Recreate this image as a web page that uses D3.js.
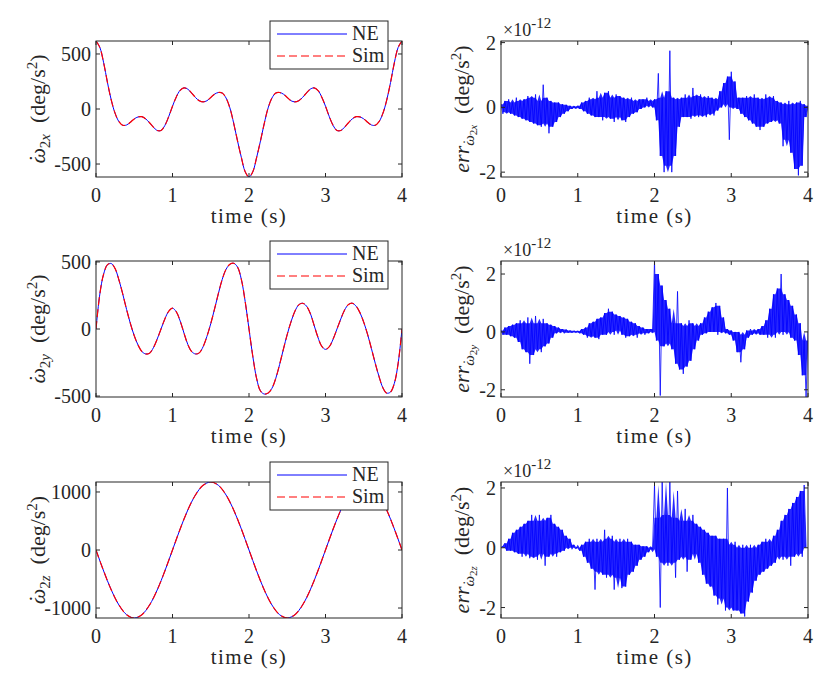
<!DOCTYPE html>
<html lang="en">
<head>
    <meta charset="utf-8">
    <script src="https://d3js.org/d3.v7.min.js"></script>
    <style>
        body { margin: 0; background: #fff; }
        svg, text { font-family: "Liberation Serif", "DejaVu Serif", "Noto Serif", serif; }
        text { fill: #262626; }
        .box { fill: none; stroke: #262626; stroke-width: 1; }
        .tick { stroke: #262626; stroke-width: 1; }
    </style>
</head>
<body>
<script>
    // time bases
    let tFine = d3.range(81).map(function (i) { return i * 0.05; });
    let tCoarse = d3.range(41).map(function (i) { return i * 0.1; });
    let tErr = d3.range(161).map(function (i) { return i * 0.025; });

    let xTicks = [0, 1, 2, 3, 4];

    // angular acceleration, NE model (deg/s^2); Sim overlays the same values
    let wx = [618, 560, 420, 240, 80, -40, -115, -148, -145, -120,
        -90, -72, -70, -90, -125, -165, -195, -195, -150, -70,
        25, 110, 170, 192, 180, 145, 105, 75, 65, 75,
        105, 135, 150, 145, 100, 10, -130, -290, -440, -570,
        -618, -570, -440, -290, -130, 10, 100, 145, 150, 135,
        105, 75, 65, 75, 105, 145, 180, 192, 170, 110,
        25, -70, -150, -195, -195, -165, -125, -90, -70, -72,
        -90, -120, -145, -148, -115, -40, 80, 240, 420, 560, 618];

    let wy = [0, 260, 410, 480, 488, 450, 365, 260, 145, 40,
        -50, -120, -168, -186, -180, -140, -75, 0, 75, 132,
        155, 128, 60, -30, -115, -168, -186, -178, -132, -55,
        40, 150, 265, 370, 445, 482, 490, 462, 370, 205,
        0, -205, -370, -462, -485, -478, -442, -368, -265, -150,
        -40, 55, 132, 180, 192, 172, 118, 30, -60, -128,
        -152, -132, -75, 0, 75, 142, 182, 192, 170, 122,
        50, -40, -145, -255, -355, -438, -478, -470, -405, -255, 0];

    let wz = [0, -362, -689, -948, -1115, -1172, -1115, -948, -689, -362,
        0, 362, 689, 948, 1115, 1172, 1115, 948, 689, 362,
        0, -362, -689, -948, -1115, -1172, -1115, -948, -689, -362,
        0, 362, 689, 948, 1115, 1172, 1115, 948, 689, 362, 0];

    // NE - Sim error (x1e-12 deg/s^2), read every 0.025 s
    let errX = [0.1, -0.2, 0.2, -0.15, 0.25, -0.2, 0.15, -0.25,
        0.3, -0.3, 0.2, -0.35, 0.25, -0.4, 0.35, -0.45,
        0.3, -0.5, 0.4, -0.55, 0.2, -0.6, 0.7, -0.5,
        0.3, -0.8, 0.2, -0.6, 0.15, -0.45, 0.15, -0.3,
        0.1, -0.2, 0.08, -0.12, 0.05, -0.05, 0.03, -0.02,
        0.05, -0.05, 0.15, -0.12, 0.2, -0.2, 0.3, -0.25,
        0.25, -0.3, 0.5, -0.3, 0.3, -0.4, 0.45, -0.3,
        0.5, -0.35, 0.3, -0.45, 0.4, -0.3, 0.35, -0.4,
        0.3, -0.45, 0.25, -0.3, 0.3, -0.2, 0.2, -0.15,
        0.25, -0.05, 0.25, 0.0, 0.3, 0.05, 0.2, 0.0,
        0.25, -0.4, 1.05, -1.5, 0.3, -2.0, 0.5, -1.8,
        1.75, -2.0, 0.3, -1.5, 0.25, -0.6, 0.3, -0.3,
        0.4, -0.3, 0.3, -0.35, 0.6, -0.25, 0.35, -0.3,
        0.4, -0.25, 0.3, -0.3, 0.35, -0.2, 0.3, -0.25,
        0.25, -0.1, 0.5, 0.0, 0.75, 0.1, 0.95, -1.0,
        1.1, 0.0, 0.8, -0.05, 0.3, -0.2, 0.3, -0.3,
        0.35, -0.4, 0.3, -0.5, 0.4, -0.6, 0.3, -0.7,
        0.25, -0.6, 0.4, -0.5, 0.3, -0.45, 0.35, -0.4,
        0.2, -0.5, 0.15, -1.2, 0.1, -1.0, 0.2, -1.4,
        0.1, -1.9, 0.15, -2.1, 0.2, -1.8, 0.1, -0.3, 0.05];

    let errY = [0.05, -0.1, 0.15, -0.1, 0.2, -0.15, 0.25, -0.2,
        0.3, -0.35, 0.4, -0.6, 0.3, -0.7, 0.5, -1.1,
        0.3, -0.8, 0.55, -0.6, 0.3, -0.7, 0.45, -0.5,
        0.3, -0.4, 0.25, -0.2, 0.2, -0.05, 0.15, 0.0,
        0.1, -0.05, 0.08, -0.03, 0.05, -0.03, 0.04, -0.02,
        0.03, -0.05, 0.1, -0.1, 0.15, -0.2, 0.3, -0.15,
        0.35, -0.2, 0.45, -0.25, 0.5, -0.1, 0.65, -0.1,
        0.8, 0.0, 0.7, -0.1, 0.6, 0.05, 0.55, -0.1,
        0.5, -0.2, 0.45, -0.15, 0.35, -0.1, 0.3, -0.2,
        0.2, -0.05, 0.15, -0.1, 0.1, -0.05, 0.1, 0.0,
        2.45, -0.3, 2.0, -2.2, 1.6, -0.5, 1.1, -0.4,
        0.8, -0.6, 0.3, -1.1, 1.4, -1.3, 0.3, -1.45,
        0.2, -1.2, 0.4, -1.0, 0.3, -0.6, 0.2, -0.3,
        0.3, -0.1, 0.5, -0.05, 0.7, 0.0, 0.85, 0.0,
        1.0, -0.1, 0.9, 0.0, 0.5, -0.05, 0.1, -0.1,
        0.05, -0.3, 0.0, -0.7, 0.0, -1.05, -0.1, -0.6,
        0.05, -0.2, 0.1, -0.1, 0.05, -0.05, 0.1, -0.1,
        0.2, -0.1, 0.4, -0.2, 0.8, -0.1, 1.3, -0.2,
        1.5, 0.0, 2.0, -0.1, 1.3, 0.0, 1.1, -0.2,
        0.9, -0.3, 0.6, -0.8, 0.3, -1.5, -0.3, -2.25, 0.0];

    let errZ = [0.0, 0.05, 0.15, -0.1, 0.3, -0.1, 0.5, -0.15,
        0.6, -0.2, 0.7, -0.3, 0.8, -0.2, 0.9, -0.35,
        1.1, -0.3, 0.9, -0.4, 1.1, -0.2, 0.9, -0.6,
        1.0, -0.3, 1.1, -0.2, 0.8, -0.3, 0.7, -0.15,
        0.6, -0.1, 0.4, 0.0, 0.3, -0.05, 0.1, 0.0,
        0.0, -0.1, 0.1, -0.3, 0.2, -0.5, 0.3, -0.7,
        0.2, -1.4, 0.3, -0.8, 0.2, -0.9, 0.6, -1.0,
        0.3, -0.9, 0.4, -1.4, 0.2, -1.0, 0.3, -1.35,
        0.2, -1.3, 0.3, -0.9, 0.2, -0.8, 0.1, -0.6,
        0.1, -0.4, 0.05, -0.3, 0.05, -0.15, 0.0, -0.05,
        2.1, -0.3, 1.0, -2.0, 2.2, -0.5, 1.1, -0.6,
        2.2, -0.5, 1.0, -1.0, 1.9, -0.4, 0.9, -0.3,
        1.3, -0.8, 0.9, -0.4, 1.1, -0.2, 0.8, -0.5,
        0.7, -0.9, 0.6, -1.2, 0.5, -1.3, 0.4, -1.6,
        0.4, -1.9, 0.3, -1.7, 0.3, -2.1, 2.0, -2.0,
        0.1, -2.1, 0.2, -2.1, 0.0, -2.2, 0.1, -2.3,
        0.0, -1.8, 0.1, -1.5, 0.0, -1.1, 0.1, -0.9,
        0.2, -0.8, 0.3, -0.7, 0.2, -0.6, 0.4, -0.5,
        0.6, -0.3, 0.9, -0.4, 1.1, -0.3, 1.3, -0.6,
        1.5, -0.3, 1.7, -0.2, 1.9, -0.3, 2.1, 0.0];

    let leftYTicks = [[-500, 0, 500], [-500, 0, 500], [-1000, 0, 1000]];
    let rightYTicks = [-2, 0, 2];
    let axisNames = ['x', 'y', 'z'];
    let legendNames = ['NE', 'Sim'];

    // layout
    let colX = [[96, 402], [501, 808]];
    let rowY = [[41, 177], [261, 397], [482, 618]];
    let leftDomains = [[-618, 618], [-507, 507], [-1172, 1172]];
    let rightDomains = [[-2.15, 2.05], [-2.25, 2.45], [-2.35, 2.2]];

    let svg = d3.select('body').append('svg')
        .attr('width', 827).attr('height', 677)
        .attr('font-family', '"Liberation Serif", "DejaVu Serif", serif');

    function drawFrame(g, x, y, yTicks) {
        let x0 = x.range()[0], x1 = x.range()[1];
        let y0 = y.range()[0], y1 = y.range()[1];
        let tl = 4;
        xTicks.forEach(function (t) {
            g.append('line').attr('class', 'tick')
                .attr('x1', x(t)).attr('x2', x(t)).attr('y1', y0).attr('y2', y0 - tl);
            g.append('line').attr('class', 'tick')
                .attr('x1', x(t)).attr('x2', x(t)).attr('y1', y1).attr('y2', y1 + tl);
            g.append('text').attr('x', x(t)).attr('y', y0 + 25)
                .attr('text-anchor', 'middle').style('font-size', '20px').text(t);
        });
        yTicks.forEach(function (v) {
            g.append('line').attr('class', 'tick')
                .attr('x1', x0).attr('x2', x0 + tl).attr('y1', y(v)).attr('y2', y(v));
            g.append('line').attr('class', 'tick')
                .attr('x1', x1).attr('x2', x1 - tl).attr('y1', y(v)).attr('y2', y(v));
            g.append('text').attr('x', x0 - 5).attr('y', y(v) + 7)
                .attr('text-anchor', 'end').style('font-size', '20px').text(String(v));
        });
        g.append('rect').attr('class', 'box')
            .attr('x', x0).attr('y', y1).attr('width', x1 - x0).attr('height', y0 - y1);
        g.append('text').attr('x', (x0 + x1) / 2).attr('y', y0 + 46)
            .attr('text-anchor', 'middle').style('font-size', '21px')
            .style('letter-spacing', '1.5px').text('time (s)');
    }

    // omega with a dot above it; returns the dx the following tspan needs
    function dotted(lab, size, dy) {
        lab.append('tspan').attr('dy', dy).style('font-style', 'italic')
            .style('font-size', size + 'px').text('\u03c9');
        lab.append('tspan').attr('dx', -0.62 * size).attr('dy', -0.05 * size)
            .style('font-size', size + 'px').text('\u02d9');
        return 0.28 * size;
    }

    let leftData = [wx, wy, wz];
    let leftTime = [tFine, tFine, tCoarse];
    let errData = [errX, errY, errZ];

    leftData.forEach(function (vals, r) {
        let g = svg.append('g');
        let x = d3.scaleLinear().domain([0, 4]).range(colX[0]);
        let y = d3.scaleLinear().domain(leftDomains[r]).range([rowY[r][1], rowY[r][0]]);
        let ts = leftTime[r];
        let line = d3.line()
            .x(function (d, i) { return x(ts[i]); })
            .y(function (d) { return y(d); })
            .curve(d3.curveCatmullRom.alpha(0.5));

        let clipId = 'clipL' + r;
        g.append('clipPath').attr('id', clipId).append('rect')
            .attr('x', colX[0][0]).attr('y', rowY[r][0])
            .attr('width', colX[0][1] - colX[0][0]).attr('height', rowY[r][1] - rowY[r][0]);
        let plot = g.append('g').attr('clip-path', 'url(#' + clipId + ')');
        plot.append('path').datum(vals).attr('d', line)
            .attr('fill', 'none').attr('stroke', '#0000ff').attr('stroke-width', 1);
        plot.append('path').datum(vals).attr('d', line)
            .attr('fill', 'none').attr('stroke', '#ff0000').attr('stroke-width', 1.2)
            .attr('stroke-dasharray', '8,4');

        drawFrame(g, x, y, leftYTicks[r]);

        // y label
        let cy = (rowY[r][0] + rowY[r][1]) / 2;
        let lab = g.append('text')
            .attr('transform', 'translate(45,' + cy + ') rotate(-90)')
            .attr('text-anchor', 'middle').style('font-size', '22px');
        let dx = dotted(lab, 22, 0);
        lab.append('tspan').attr('dx', dx).attr('dy', 6).style('font-size', '15px').text('2');
        lab.append('tspan').style('font-size', '15px').style('font-style', 'italic').text(axisNames[r]);
        lab.append('tspan').attr('dy', -5).style('font-size', '22px').text('\u2002(deg/s');
        lab.append('tspan').attr('dy', -8).style('font-size', '15px').text('2');
        lab.append('tspan').attr('dy', 8).style('font-size', '22px').text(')');

        // legend
        let lx = 270, ly = rowY[r][0] - 20;
        let leg = g.append('g');
        leg.append('rect').attr('x', lx).attr('y', ly).attr('width', 118).attr('height', 48)
            .attr('fill', '#fff').attr('stroke', '#262626').attr('stroke-width', 1);
        leg.append('line').attr('x1', lx + 7).attr('x2', lx + 77)
            .attr('y1', ly + 13).attr('y2', ly + 13)
            .attr('stroke', '#0000ff').attr('stroke-width', 1);
        leg.append('line').attr('x1', lx + 7).attr('x2', lx + 77)
            .attr('y1', ly + 35).attr('y2', ly + 35)
            .attr('stroke', '#ff0000').attr('stroke-width', 1.2).attr('stroke-dasharray', '8,4');
        legendNames.forEach(function (n, i) {
            leg.append('text').attr('x', lx + 82).attr('y', ly + 19 + i * 22)
                .style('font-size', '20px').text(n);
        });
    });

    errData.forEach(function (vals, r) {
        let g = svg.append('g');
        let x = d3.scaleLinear().domain([0, 4]).range(colX[1]);
        let y = d3.scaleLinear().domain(rightDomains[r]).range([rowY[r][1], rowY[r][0]]);
        let line = d3.line()
            .x(function (d, i) { return x(tErr[i]); })
            .y(function (d) { return y(d); });
        // dense core of the noise: second-largest / second-smallest of 5 neighbours
        function win(i) {
            return vals.slice(Math.max(0, i - 2), i + 3).slice().sort(d3.ascending);
        }
        let band = d3.area()
            .x(function (d, i) { return x(tErr[i]); })
            .y0(function (d, i) { let w = win(i); return y(w[1]); })
            .y1(function (d, i) { let w = win(i); return y(w[w.length - 2]); });

        let clipId = 'clipR' + r;
        g.append('clipPath').attr('id', clipId).append('rect')
            .attr('x', colX[1][0]).attr('y', rowY[r][0])
            .attr('width', colX[1][1] - colX[1][0]).attr('height', rowY[r][1] - rowY[r][0]);
        let plot = g.append('g').attr('clip-path', 'url(#' + clipId + ')');
        plot.append('path').datum(vals).attr('d', band)
            .attr('fill', '#0000ff').attr('fill-opacity', 0.85).attr('stroke', 'none');
        plot.append('path').datum(vals).attr('d', line)
            .attr('fill', 'none').attr('stroke', '#0000ff').attr('stroke-width', 0.8);

        drawFrame(g, x, y, rightYTicks);

        // exponent
        let ex = g.append('text').attr('x', colX[1][0] + 2).attr('y', rowY[r][0] - 5)
            .style('font-size', '18px');
        ex.append('tspan').text('\u00d710');
        ex.append('tspan').attr('dy', -8).style('font-size', '15px').text('-12');

        // y label
        let cy = (rowY[r][0] + rowY[r][1]) / 2;
        let lab = g.append('text')
            .attr('transform', 'translate(469,' + cy + ') rotate(-90)')
            .attr('text-anchor', 'middle').style('font-size', '22px');
        lab.append('tspan').style('font-style', 'italic').text('err');
        let dx = dotted(lab, 15, 5);
        lab.append('tspan').attr('dx', dx).attr('dy', 3.7).style('font-size', '11px').text('2');
        lab.append('tspan').style('font-size', '11px').style('font-style', 'italic').text(axisNames[r]);
        lab.append('tspan').attr('dy', -8).style('font-size', '22px').text('\u2002(deg/s');
        lab.append('tspan').attr('dy', -8).style('font-size', '15px').text('2');
        lab.append('tspan').attr('dy', 8).style('font-size', '22px').text(')');
    });
</script>
</body>
</html>
